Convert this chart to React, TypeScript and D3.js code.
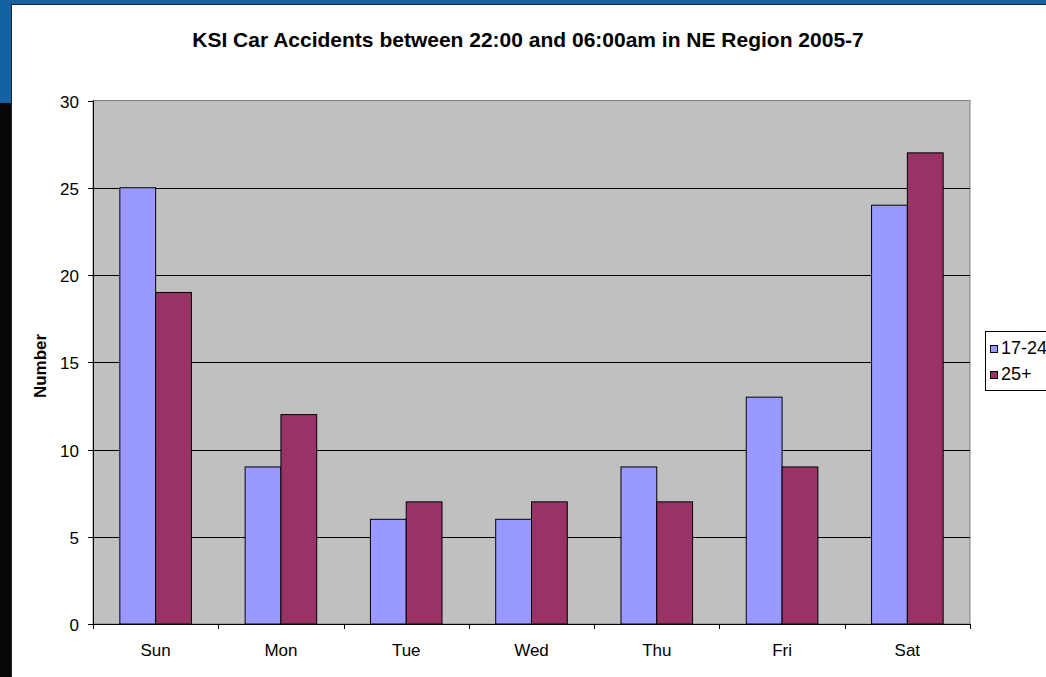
import React from "react";
import * as d3 from "d3";

const days = ["Sun", "Mon", "Tue", "Wed", "Thu", "Fri", "Sat"];
const young = [25, 9, 6, 6, 9, 13, 24];
const older = [19, 12, 7, 7, 7, 9, 27];
const seriesNames = ["17-24", "25+"];
const colors = ["#9999FF", "#993366"];
const yTicks = [0, 5, 10, 15, 20, 25, 30];

const W = 1046;
const H = 677;
const plot = { left: 93, right: 970, top: 100.5, bottom: 624 };

const App = () => {
  const x = d3.scaleBand().domain(days).range([plot.left, plot.right]);
  const y = d3.scaleLinear().domain([0, 30]).range([plot.bottom, plot.top]);
  const barW = x.bandwidth() / 3.5;
  const series = [young, older];
  const font = "Arial, 'Liberation Sans', sans-serif";

  return (
    <svg width={W} height={H} style={{ position: "fixed", left: 0, top: 0 }} fontFamily={font}>
      {/* background outside the chart */}
      <rect x={0} y={0} width={W} height={H} fill="#060808" />
      <rect x={0} y={0} width={W} height={103} fill="#1462A2" />
      <rect x={11.5} y={4.5} width={W} height={H} fill="#fff" stroke="#222" />

      <text x={528} y={47} textAnchor="middle" fontSize={21} fontWeight="bold">
        KSI Car Accidents between 22:00 and 06:00am in NE Region 2005-7
      </text>

      {/* plot area */}
      <rect x={plot.left} y={plot.top} width={plot.right - plot.left} height={plot.bottom - plot.top}
        fill="#C0C0C0" stroke="#808080" />

      {yTicks.filter(t => t > 0 && t < 30).map(t => (
        <line key={t} x1={plot.left} x2={plot.right} y1={Math.round(y(t)) + 0.5} y2={Math.round(y(t)) + 0.5}
          stroke="#000" />
      ))}

      {days.map((d, i) =>
        series.map((s, j) => (
          <rect key={d + j} x={x(d)! + barW * 0.75 + j * barW} y={y(s[i])}
            width={barW} height={y(0) - y(s[i])} fill={colors[j]} stroke="#000" />
        ))
      )}

      {/* y axis */}
      <line x1={plot.left + 0.5} x2={plot.left + 0.5} y1={plot.top} y2={plot.bottom} stroke="#000" />
      {yTicks.map(t => (
        <g key={t}>
          <line x1={plot.left - 5} x2={plot.left} y1={Math.round(y(t)) + 0.5} y2={Math.round(y(t)) + 0.5} stroke="#000" />
          <text x={79} y={y(t) + 7} textAnchor="end" fontSize={17}>{t}</text>
        </g>
      ))}

      {/* x axis */}
      <line x1={plot.left} x2={plot.right} y1={plot.bottom + 0.5} y2={plot.bottom + 0.5} stroke="#000" />
      {days.concat([""]).map((d, i) => {
        const px = Math.round(plot.left + i * x.bandwidth()) + 0.5;
        return <line key={"t" + i} x1={px} x2={px} y1={plot.bottom} y2={plot.bottom + 5} stroke="#000" />;
      })}
      {days.map(d => (
        <text key={d} x={x(d)! + x.bandwidth() / 2} y={656} textAnchor="middle" fontSize={17}>{d}</text>
      ))}

      <text transform="translate(46,366) rotate(-90)" textAnchor="middle" fontSize={17} fontWeight="bold">
        Number
      </text>

      {/* legend */}
      <rect x={985.5} y={331.5} width={80} height={59} fill="#fff" stroke="#000" />
      {seriesNames.map((n, i) => (
        <g key={n}>
          <rect x={990.5} y={345.5 + i * 26} width={7} height={7} fill={colors[i]} stroke="#000" />
          <text x={1001} y={353.5 + i * 26} fontSize={18}>{n}</text>
        </g>
      ))}
    </svg>
  );
};

export default App;
